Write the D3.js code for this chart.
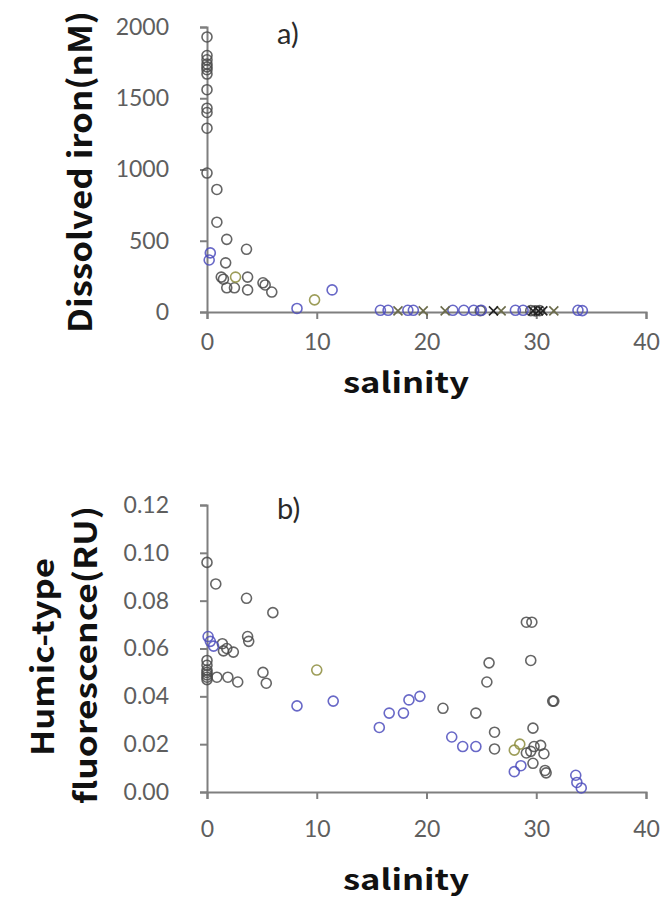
<!DOCTYPE html>
<html>
<head>
<meta charset="utf-8">
<script src="https://cdn.jsdelivr.net/npm/d3@7"></script>
<style>
  body { margin: 0; background: #fff; }
  .tick text { font-family: Lato, "Open Sans", sans-serif; font-size: 23px; fill: #5e5e5e; }
  .axis path, .axis line { stroke: #7f7f7f; stroke-width: 2; }
  .title { font-family: "Noto Sans CJK JP", "Noto Sans", sans-serif; font-weight: bold; fill: #111; }
</style>
</head>
<body>
<script>
// salinity ticks shared by both panels
const salinityTicks = [0, 10, 20, 30, 40];

// panel a) dissolved iron (nM), [salinity, value]
const ironTicks = [0, 500, 1000, 1500, 2000];
const ironGray = [
  [0,1930],[0,1800],[0,1770],[0,1740],[0,1720],[0,1700],[0,1670],[0,1560],[0,1430],[0,1400],[0,1290],[0,975],
  [0.9,860],[0.9,630],[1.8,510],[3.6,440],[1.7,345],[1.3,245],[1.5,230],[1.8,170],[2.5,170],[3.7,245],[3.7,155],
  [5.1,205],[5.3,190],[5.9,140],[24.9,10],[29.5,10],[29.9,8],[30.3,10]
];
const ironBlue = [
  [0.3,415],[0.2,365],[8.2,25],[11.4,155],[15.8,12],[16.5,12],[18.3,12],[18.8,12],[22.4,12],[23.4,12],
  [24.3,12],[25.0,12],[28.1,12],[28.8,12],[33.8,12],[34.2,10]
];
const ironOlive = [[2.6,245],[9.8,85]];
const ironCross = [[17.4,8],[19.7,8],[21.7,8],[26.8,8],[31.6,8]];
const ironCrossDark = [[26.1,8],[29.7,8],[30.2,8],[30.6,8]];

// panel b) humic-type fluorescence (RU)
const fluoTicks = [0, 0.02, 0.04, 0.06, 0.08, 0.10, 0.12];
const fluoGray = [
  [0,0.096],[0.8,0.087],[3.6,0.081],[6.0,0.075],[3.7,0.065],[3.8,0.063],[1.4,0.062],[1.8,0.060],[1.5,0.059],[2.4,0.0585],
  [0,0.055],[0,0.053],[0,0.051],[0,0.050],[0,0.049],[0,0.048],[0,0.047],[0.9,0.048],[1.9,0.048],[2.8,0.046],
  [5.1,0.050],[5.4,0.0455],[21.5,0.035],[24.5,0.033],[25.7,0.054],[25.5,0.046],[26.2,0.025],[26.2,0.018],
  [29.1,0.071],[29.6,0.071],[29.5,0.055],[31.5,0.038],[31.6,0.038],[29.7,0.0267],[29.1,0.0163],[29.5,0.017],
  [29.8,0.019],[30.4,0.0195],[30.7,0.016],[29.7,0.012],[30.8,0.009],[30.9,0.008]
];
const fluoBlue = [
  [0.1,0.065],[0.3,0.063],[0.6,0.061],[8.2,0.036],[11.5,0.038],[15.7,0.027],[16.6,0.033],[17.9,0.033],
  [18.4,0.0385],[19.4,0.040],[22.3,0.023],[23.3,0.019],[24.5,0.019],[28.0,0.0085],[28.6,0.011],
  [33.6,0.007],[33.7,0.004],[34.1,0.0017]
];
const fluoOlive = [[10.0,0.051],[28.0,0.0175],[28.5,0.020]];

const colGray = "#4a4a4a", colBlue = "#4d4dbd", colOlive = "#8c8c3c";

const svg = d3.select("body").append("svg")
  .attr("width", 660).attr("height", 900);

function panel(o) {
  const x = d3.scaleLinear().domain([0, 40]).range([207, 646]);
  const y = d3.scaleLinear().domain(o.domain).range([o.bottom, o.top]);

  svg.append("g").attr("class", "axis")
    .attr("transform", `translate(0,${o.bottom})`)
    .call(d3.axisBottom(x).tickValues(salinityTicks).tickSize(7).tickPadding(o.xPad))
    .selectAll(".tick text").attr("dy", "0.9em");

  svg.append("g").attr("class", "axis")
    .attr("transform", "translate(207,0)")
    .call(d3.axisLeft(y).tickValues(o.ticks).tickSize(7).tickPadding(31).tickFormat(o.fmt));

  const g = svg.append("g");
  o.circles.forEach(s => {
    g.selectAll(null).data(s.data).enter().append("circle")
      .attr("cx", d => x(d[0])).attr("cy", d => y(d[1])).attr("r", 5)
      .attr("fill", "none").attr("stroke", s.color).attr("stroke-width", 1.6).attr("stroke-opacity", 0.85);
  });
  (o.crosses || []).forEach(s => {
    g.selectAll(null).data(s.data).enter().append("path")
      .attr("d", d => {
        const cx = x(d[0]), cy = y(d[1]), r = 4.5;
        return `M${cx-r},${cy-r}L${cx+r},${cy+r}M${cx-r},${cy+r}L${cx+r},${cy-r}`;
      })
      .attr("stroke", s.color).attr("stroke-width", 1.6).attr("fill", "none");
  });

  svg.append("text").attr("x", 277).attr("y", o.tagY)
    .attr("font-family", "Lato, sans-serif").attr("font-size", 29).attr("fill", "#2a2a2a")
    .text(o.tag);

  svg.append("text").attr("class", "title").attr("x", 406).attr("y", o.salY)
    .attr("text-anchor", "middle").attr("font-size", 28)
    .attr("textLength", 126).attr("lengthAdjust", "spacingAndGlyphs")
    .text("salinity");
}

panel({
  domain: [0, 2000], top: 27, bottom: 312, ticks: ironTicks, fmt: d3.format("d"), tag: "a)",
  xPad: 10, tagY: 44, salY: 393,
  circles: [{data: ironGray, color: colGray}, {data: ironOlive, color: colOlive}, {data: ironBlue, color: colBlue}],
  crosses: [{data: ironCross, color: "#6b6b4a"}, {data: ironCrossDark, color: "#222"}]
});

panel({
  domain: [0, 0.12], top: 505, bottom: 792, ticks: fluoTicks, fmt: d3.format(".2f"), tag: "b)",
  xPad: 17, tagY: 519, salY: 890,
  circles: [{data: fluoGray, color: colGray}, {data: fluoOlive, color: colOlive}, {data: fluoBlue, color: colBlue}]
});

// y axis titles
svg.append("text").attr("class", "title")
  .attr("transform", "translate(92,172) rotate(-90)")
  .attr("text-anchor", "middle").attr("font-size", 32)
  .attr("textLength", 322).attr("lengthAdjust", "spacingAndGlyphs")
  .text("Dissolved iron(nM)");

svg.append("text").attr("class", "title")
  .attr("transform", "translate(54,657) rotate(-90)")
  .attr("text-anchor", "middle").attr("font-size", 31)
  .attr("textLength", 198).attr("lengthAdjust", "spacingAndGlyphs")
  .text("Humic-type");
svg.append("text").attr("class", "title")
  .attr("transform", "translate(97,655) rotate(-90)")
  .attr("text-anchor", "middle").attr("font-size", 31)
  .attr("textLength", 298).attr("lengthAdjust", "spacingAndGlyphs")
  .text("fluorescence(RU)");
</script>
</body>
</html>
